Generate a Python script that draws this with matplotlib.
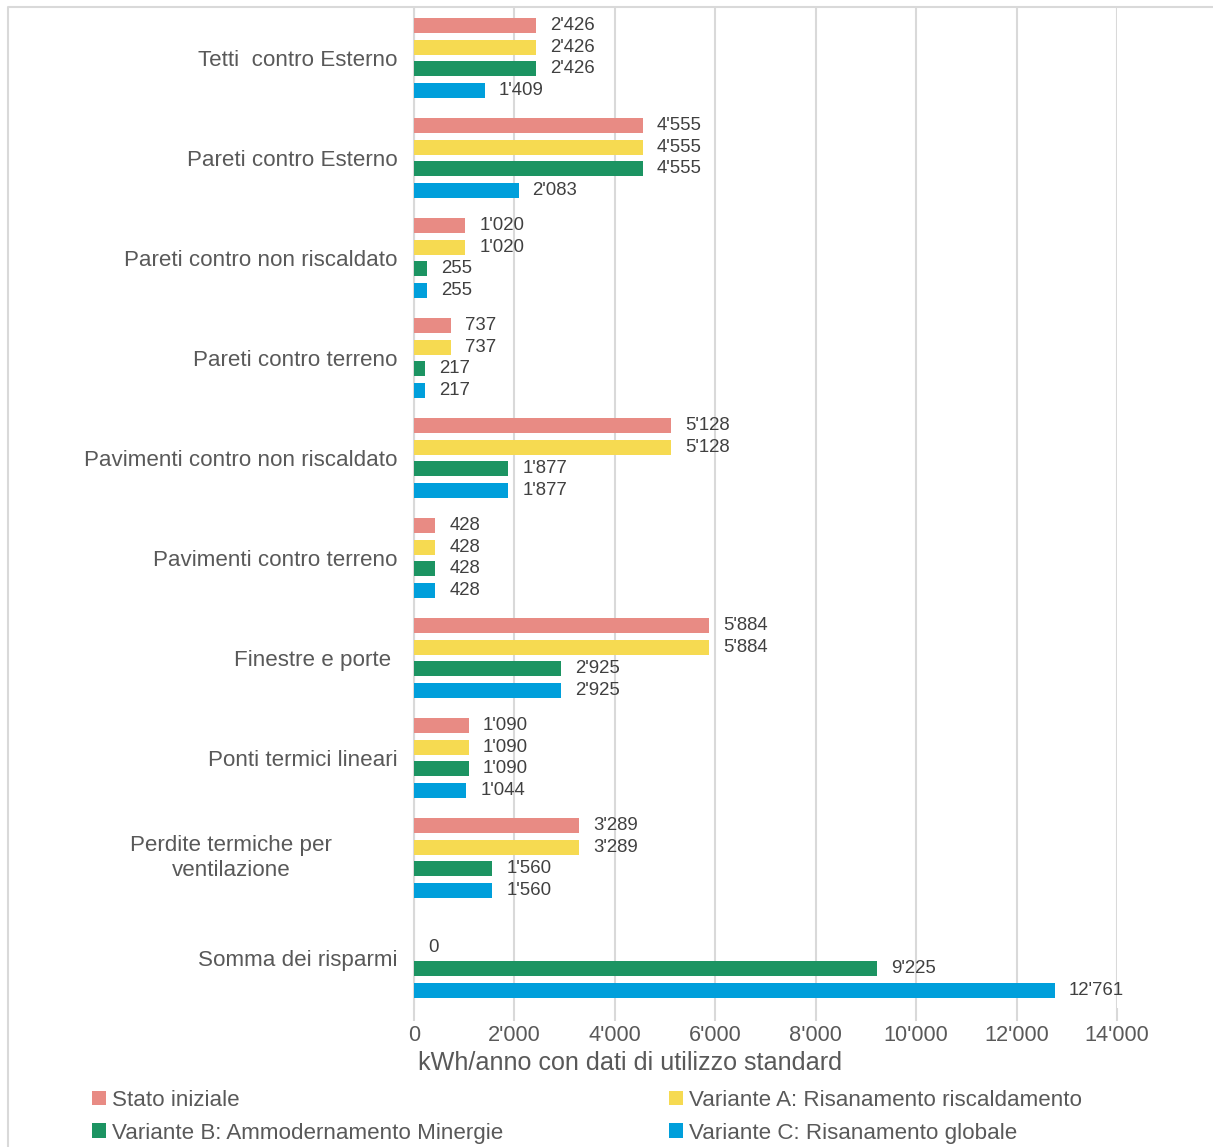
import numpy as np
import matplotlib
matplotlib.use('Agg')
import matplotlib.pyplot as plt
import matplotlib.transforms as mtransforms
from matplotlib.lines import Line2D
from matplotlib.ticker import FuncFormatter, MultipleLocator

plt.rcParams['font.family'] = ['Liberation Sans', 'DejaVu Sans']

categories = ["Tetti  contro Esterno", "Pareti contro Esterno", "Pareti contro non riscaldato",
              "Pareti contro terreno", "Pavimenti contro non riscaldato", "Pavimenti contro terreno",
              "Finestre e porte ", "Ponti termici lineari", "Perdite termiche per\nventilazione",
              "Somma dei risparmi"]
stato = [2426, 4555, 1020, 737, 5128, 428, 5884, 1090, 3289, np.nan]
var_a = [2426, 4555, 1020, 737, 5128, 428, 5884, 1090, 3289, 0]
var_b = [2426, 4555, 255, 217, 1877, 428, 2925, 1090, 1560, 9225]
var_c = [1409, 2083, 255, 217, 1877, 428, 2925, 1044, 1560, 12761]
series_names = ["Stato iniziale", "Variante A: Risanamento riscaldamento",
                "Variante B: Ammodernamento Minergie", "Variante C: Risanamento globale"]
colors = ['#E88B84', '#F6DA51', '#1C9462', '#009FDB']

W, H = 1213, 1147
fig = plt.figure(figsize=(W / 100, H / 100), dpi=100)
ax = fig.add_axes([414 / W, 1 - 1008 / H, (1117 - 414) / W, (1008 - 8) / H])

fmt = lambda v: f"{int(v):,}".replace(',', "'")
grey = '#595959'
y = np.arange(len(categories))
step, bh = 0.215, 0.15
handles = []
for k, (vals, c) in enumerate(zip([stato, var_a, var_b, var_c], colors)):
    ypos = y + (k - 1.5) * step
    bars = ax.barh(ypos, vals, height=bh, color=c, label=series_names[k], zorder=3)
    handles.append(bars)
    for yy, v in zip(ypos, vals):
        if np.isnan(v):
            continue
        ax.annotate(fmt(v), (v, yy), xytext=(14, 0), textcoords='offset pixels',
                    ha='left', va='center', fontsize=13.4, color='#404040')

ax.set_xlim(0, 14000)
ax.set_ylim(len(categories) - 0.5, -0.5)
ax.xaxis.set_major_locator(MultipleLocator(2000))
ax.xaxis.set_major_formatter(FuncFormatter(lambda v, p: fmt(v)))
ax.grid(axis='x', color='#D9D9D9', linewidth=1.5, zorder=0)
for s in ['top', 'right', 'bottom']:
    ax.spines[s].set_visible(False)
ax.spines['left'].set_color('#D9D9D9')
ax.spines['left'].set_linewidth(1.5)
ax.tick_params(axis='x', length=9, width=1.5, color='#D9D9D9', labelsize=15.7,
               labelcolor=grey, pad=3)
ax.tick_params(axis='y', length=0, labelsize=16.1, labelcolor=grey, pad=12)
ax.set_yticks(y)
labels = list(categories)
labels[8] = ''
ax.set_yticklabels(labels)

# x label, centred under the left part of the plot as in the original
ax.set_xlabel('kWh/anno con dati di utilizzo standard', fontsize=18.1, color=grey)
ax.xaxis.set_label_coords((630 - 414) / 703, 1 - 1063 / H,
                          transform=mtransforms.blended_transform_factory(ax.transAxes, fig.transFigure))
ax.xaxis.label.set_verticalalignment('center')

# wrapped category label, centred in the label area
tr = mtransforms.blended_transform_factory(fig.transFigure, ax.transData)
ax.text(231 / W, y[8], categories[8], transform=tr, ha='center', va='center',
        multialignment='center', fontsize=16.1, color=grey, linespacing=1.25)

# legend (column-wise order -> rows: Stato | A, B | C)
order = [0, 2, 1, 3]
fig.legend([handles[i] for i in order], [series_names[i] for i in order],
           loc='upper left', bbox_to_anchor=(92 / W, 1 - 1090 / H), ncol=2,
           frameon=False, fontsize=16.1, handlelength=0.63, handleheight=0.63,
           handletextpad=0.28, labelspacing=0.52, columnspacing=7.4,
           borderpad=0, borderaxespad=0, labelcolor=grey)

# chart border
fig.add_artist(Line2D([8 / W, 8 / W, 1.0], [0, 1 - 7 / H, 1 - 7 / H],
                      transform=fig.transFigure, color='#D9D9D9', linewidth=1.5))

fig.savefig('out.png', dpi=100)
